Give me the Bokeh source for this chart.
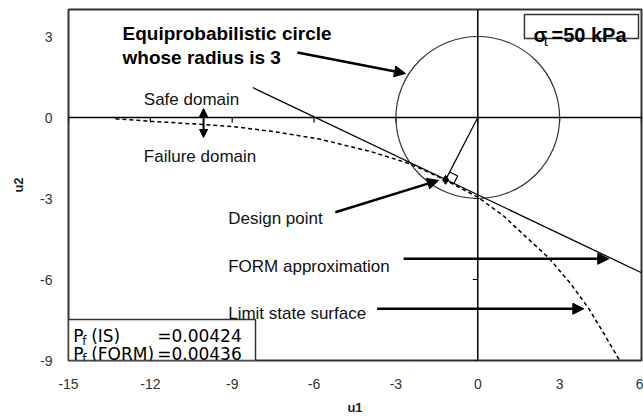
import math
from bokeh.plotting import figure
from bokeh.models import (FixedTicker, Span, Arrow, NormalHead, PrintfTickFormatter)
from bokeh.core.properties import value
from bokeh.embed import file_html
from bokeh.resources import INLINE

# ---------------- data ----------------
x_ticks = [-15, -12, -9, -6, -3, 0, 3, 6]
y_ticks = [-9, -6, -3, 0, 3]

circle_radius = 3.0

# FORM approximation (tangent plane)
form_u1 = [-8.25, 6.0]
form_u2 = [1.11, -5.75]

# limit state surface (dashed)
limit_u1 = [-13.28, -12.0, -10.05, -8.95, -7.49, -5.80, -3.93, -2.47, -1.18,
            0.0, 0.95, 1.69, 2.60, 3.40, 4.07, 4.62, 5.20]
limit_u2 = [-0.05, -0.14, -0.26, -0.34, -0.52, -0.80, -1.26, -1.72, -2.32,
            -2.95, -3.65, -4.35, -5.20, -6.15, -7.08, -8.00, -9.00]

design_u1 = -1.18
design_u2 = -2.31

pf_is = "0.00424"
pf_form = "0.00436"
sigma_label = "=50 kPa"

# ---------------- figure ----------------
FONT = "Liberation Sans"
W, H = 643, 417
ML, MR, MT, MB = 68, 2, 9, 57
p = figure(width=W, height=H, x_range=(-15, 6), y_range=(-9, 4),
           output_backend="svg", toolbar_location=None,
           min_border_left=ML, min_border_right=MR,
           min_border_top=MT, min_border_bottom=MB)
p.grid.visible = False
p.background_fill_color = "white"
p.border_fill_color = "white"
p.outline_line_color = "#333333"
p.outline_line_width = 2

for ax, ticks, standoff in ((p.xaxis, x_ticks, 18), (p.yaxis, y_ticks, 16)):
    ax.ticker = FixedTicker(ticks=ticks)
    ax.formatter = PrintfTickFormatter(format="%d")
    ax.major_tick_out = 0
    ax.major_tick_in = 0
    ax.minor_tick_line_color = None
    ax.axis_line_color = None
    ax.major_label_text_font = FONT
    ax.major_label_text_font_size = "14px"
    ax.major_label_text_color = "#333333"
    ax.major_label_standoff = standoff
    ax.axis_label_text_font = FONT
    ax.axis_label_text_font_style = "bold"
    ax.axis_label_text_font_size = "13px"
    ax.axis_label_text_color = "#222222"

p.xaxis.axis_label = "u1"
p.xaxis.axis_label_standoff = 8
p.yaxis.axis_label = "u2"
p.yaxis.axis_label_standoff = 11

# pixel per unit (for tick marks and right-angle symbol)
fw = W - ML - MR
fh = H - MT - MB
px_x = fw / 21.0
px_y = fh / 13.0

# zero axes
p.add_layout(Span(location=0, dimension="width", line_color="black", line_width=1.5))
p.add_layout(Span(location=0, dimension="height", line_color="black", line_width=1.5))
tl = 5.0
p.segment(x0=x_ticks, y0=[0] * len(x_ticks), x1=x_ticks, y1=[-tl / px_y] * len(x_ticks),
          line_color="black", line_width=1.2)
p.segment(x0=[0] * len(y_ticks), y0=y_ticks, x1=[-tl / px_x] * len(y_ticks), y1=y_ticks,
          line_color="black", line_width=1.2)

# circle
p.ellipse(x=[0], y=[0], width=[2 * circle_radius], height=[2 * circle_radius],
          fill_color=None, line_color="#333333", line_width=1.2)

# limit state surface
p.line(limit_u1, limit_u2, line_color="black", line_width=1.5, line_dash="4 3")

# FORM line
p.line(form_u1, form_u2, line_color="black", line_width=1.3)

# radius to design point
p.line([0, design_u1], [0, design_u2], line_color="black", line_width=1.2)

# right angle symbol
r = math.hypot(design_u1, design_u2)
nx, ny = -design_u1 / r, -design_u2 / r
tx, ty = ny, -nx
s = 0.33
sq_x = [design_u1 + s * nx, design_u1 + s * nx + s * tx, design_u1 + s * tx]
sq_y = [design_u2 + s * ny, design_u2 + s * ny + s * ty, design_u2 + s * ty]
p.line(sq_x, sq_y, line_color="black", line_width=1.2)

p.scatter([design_u1], [design_u2], marker="diamond", size=9, color="black")

# sigma box
p.quad(left=[1.71], right=[5.89], bottom=[2.93], top=[3.815], fill_color="white",
       line_color="#333333", line_width=1.5)
p.text(x=[2.04], y=[3.05], text=["σ"], text_font=value(FONT), text_font_style="bold",
       text_font_size="20px", text_baseline="alphabetic", text_color="black")
p.text(x=[2.42], y=[2.86], text=["t"], text_font=value(FONT),
       text_font_size="15px", text_baseline="alphabetic", text_color="black")
p.text(x=[2.70], y=[3.05], text=[sigma_label], text_font=value(FONT), text_font_style="bold",
       text_font_size="20px", text_baseline="alphabetic", text_color="black")

# Pf box
p.quad(left=[-15], right=[-8.147], bottom=[-9], top=[-7.48], fill_color="white",
       line_color="#333333", line_width=1.5)
PF = "DejaVu Sans"
for yb, ys, lab, val in ((-8.11, -8.27, "(IS)", pf_is), (-8.75, -8.93, "(FORM)", pf_form)):
    p.text(x=[-14.83], y=[yb], text=["P"], text_font=value(PF), text_font_size="17px",
           text_baseline="alphabetic", text_color="black")
    p.text(x=[-14.50], y=[ys], text=["f"], text_font=value(PF), text_font_size="12px",
           text_baseline="alphabetic", text_color="black")
    p.text(x=[-14.17], y=[yb], text=[lab], text_font=value(PF), text_font_size="17px",
           text_baseline="alphabetic", text_color="black")
    p.text(x=[-11.75], y=[yb], text=["=" + val], text_font=value(PF), text_font_size="17px",
           text_baseline="alphabetic", text_color="black")

# annotation texts
p.text(x=[-13.02, -13.02], y=[3.10, 2.21],
       text=["Equiprobabilistic circle", "whose radius is 3"],
       text_font=value(FONT), text_font_style="bold", text_font_size="19px",
       text_baseline="alphabetic", text_color="black")
p.text(x=[-12.24, -12.24], y=[0.656, -1.433], text=["Safe domain", "Failure domain"],
       text_font=value(FONT), text_font_size="17px", text_baseline="alphabetic",
       text_color="#111111")
p.text(x=[-9.147, -9.147, -9.147], y=[-3.73, -5.507, -7.27],
       text=["Design point", "FORM approximation", "Limit state surface"],
       text_font=value(FONT), text_font_size="17px", text_baseline="alphabetic",
       text_color="#111111")

# arrows
def arrow(x0, y0, x1, y1, lw=2.5, size=11, both=False):
    head = NormalHead(size=size, fill_color="black", line_color="black")
    kw = dict(end=head, x_start=x0, y_start=y0, x_end=x1, y_end=y1,
              line_width=lw, line_color="black")
    if both:
        kw["start"] = NormalHead(size=size, fill_color="black", line_color="black")
    p.add_layout(Arrow(**kw))

arrow(-6.61, 2.41, -2.65, 1.63)
arrow(-5.22, -3.51, -1.44, -2.33)
arrow(-2.72, -5.233, 4.80, -5.233)
arrow(-3.69, -7.085, 3.886, -7.085)
arrow(-10.05, 0.33, -10.05, -0.74, lw=2, size=8, both=True)

open("out.html", "w").write(file_html(p, INLINE))
